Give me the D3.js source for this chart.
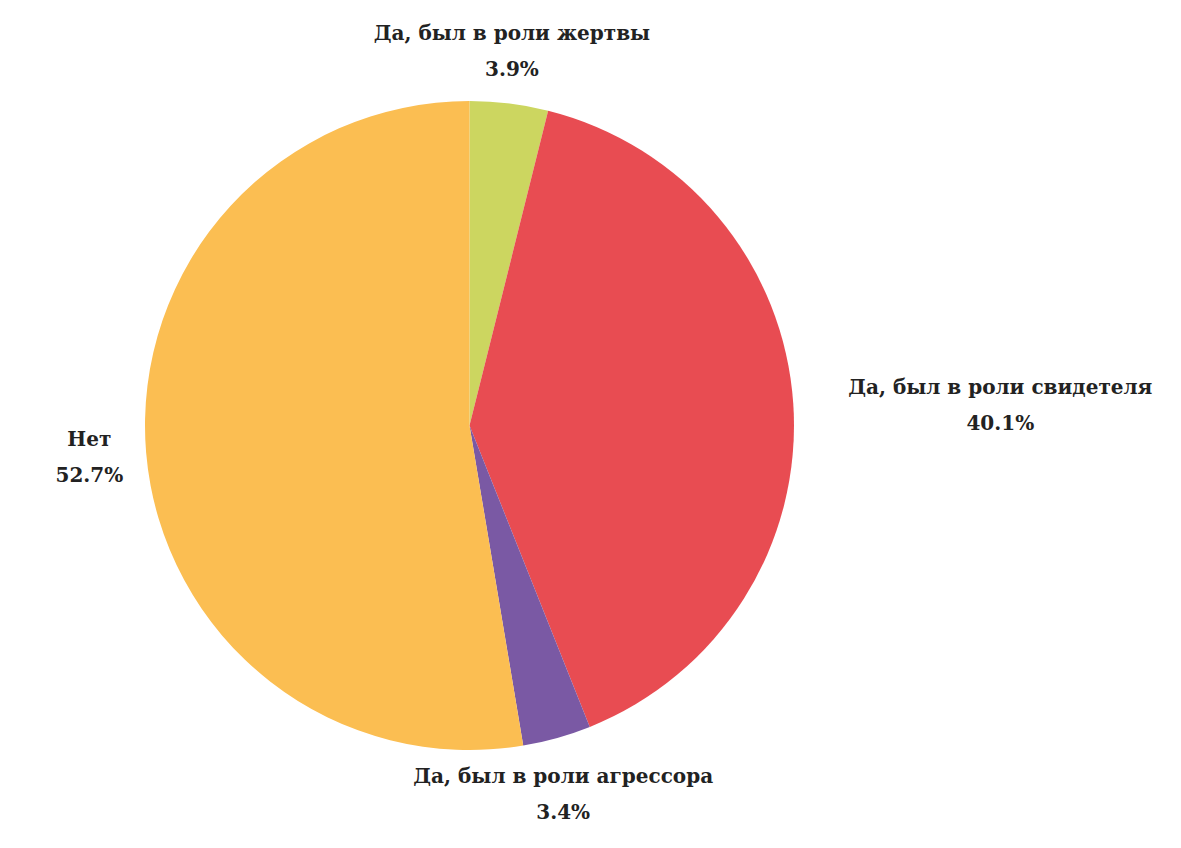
<!DOCTYPE html>
<html>
<head>
<meta charset="utf-8">
<script src="https://cdn.jsdelivr.net/npm/d3@7"></script>
<style>
  html, body { margin: 0; padding: 0; background: #ffffff; }
  svg { display: block; }
  text { font-family: "DejaVu Serif", "Liberation Serif", serif; font-weight: bold; fill: #222222; }
</style>
</head>
<body>
<svg id="chart" width="1181" height="848"></svg>
<script>
const categories = ["Да, был в роли жертвы", "Да, был в роли свидетеля", "Да, был в роли агрессора", "Нет"];
const values = [3.9, 40.1, 3.4, 52.7];
const valueLabels = ["3.9%", "40.1%", "3.4%", "52.7%"];
const colors = ["#ccd660", "#e84c52", "#7a59a4", "#fbbe52"];

const cx = 469.5, cy = 425.5, radius = 324.5;
const labelGap = 23;
const rightLabelShift = 32;
const fontSize = 20;
const lineH = 36;

const svg = d3.select("#chart");
const g = svg.append("g").attr("transform", `translate(${cx},${cy})`);

const data = categories.map((c, i) => ({ name: c, value: values[i], label: valueLabels[i], color: colors[i] }));

const pie = d3.pie().value(d => d.value).sort(null);
const arc = d3.arc().innerRadius(0).outerRadius(radius);
const arcs = pie(data);

g.selectAll("path.slice")
  .data(arcs)
  .join("path")
  .attr("class", "slice")
  .attr("d", arc)
  .attr("fill", d => d.data.color);

const labels = g.selectAll("g.lbl")
  .data(arcs)
  .join("g")
  .attr("class", "lbl");

labels.append("text").attr("class", "name")
  .attr("text-anchor", "middle")
  .attr("font-size", fontSize)
  .text(d => d.data.name);
labels.append("text").attr("class", "val")
  .attr("text-anchor", "middle")
  .attr("font-size", fontSize)
  .attr("y", lineH)
  .text(d => d.data.label);

labels.each(function(d) {
  const sel = d3.select(this);
  const w = Math.max(sel.select(".name").node().getComputedTextLength(), sel.select(".val").node().getComputedTextLength());
  const a = (d.startAngle + d.endAngle) / 2;
  const s = Math.sin(a), c = Math.cos(a);
  const R = radius + labelGap;
  let px = R * s, py = -R * c;
  let x, y; // x = block center, y = first baseline
  if (Math.abs(s) > 0.7) {
    if (s > 0) px += rightLabelShift;
    x = s > 0 ? px + w / 2 : px - w / 2;
    y = py + 9.5 - lineH / 2;
  } else {
    x = px;
    y = c > 0 ? py - 5 - lineH : py + 23;
  }
  sel.attr("transform", `translate(${x},${y})`);
});
</script>
</body>
</html>
